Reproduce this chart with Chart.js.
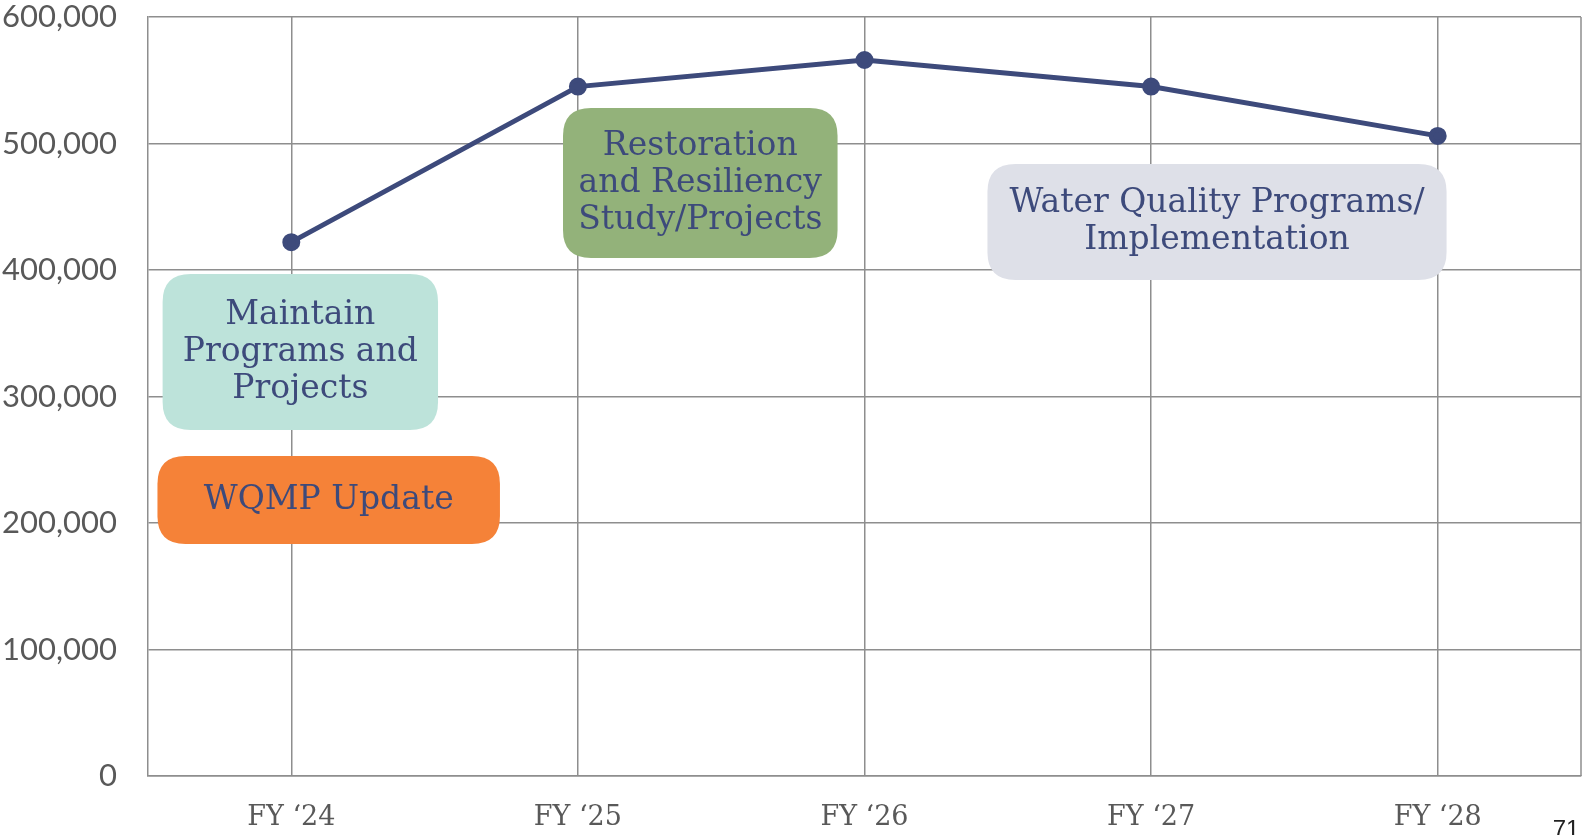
<!DOCTYPE html>
<html>
<head>
<meta charset="utf-8">
<script src="https://cdn.jsdelivr.net/npm/chart.js@4.4.0/dist/chart.umd.min.js"></script>
<style>
  html, body { margin: 0; padding: 0; background: #fff; overflow: hidden; }
  #wrap { position: relative; width: 1583px; height: 835px; }
</style>
</head>
<body>
<div id="wrap"><canvas id="budget" width="1583" height="835"></canvas></div>
<script>
// chart values
var years = ['FY \u201824', 'FY \u201825', 'FY \u201826', 'FY \u201827', 'FY \u201828'];
var totals = [422000, 545000, 566000, 545000, 506000];
var yTicks = [0, 100000, 200000, 300000, 400000, 500000, 600000];
var pageNumber = '71';

// text boxes laid over the plot (x in category index, y in axis value)
var notes = [
    { lines: ['Maintain', 'Programs and', 'Projects'], x0: -0.449, x1: 0.512, y0: 396800, y1: 273500, fill: '#bde3da' },
    { lines: ['WQMP Update'], x0: -0.467, x1: 0.728, y0: 253000, y1: 183400, fill: '#f58238' },
    { lines: ['Restoration', 'and Resiliency', 'Study/Projects'], x0: 0.948, x1: 1.906, y0: 528000, y1: 409500, fill: '#93b27a' },
    { lines: ['Water Quality Programs/', 'Implementation'], x0: 2.429, x1: 4.031, y0: 483800, y1: 392100, fill: '#dee0e8' }
];

var navy = '#3d4a7b';
var gridGray = '#8e8e8e';

function roundBox(c, x, y, w, h, r){
    c.beginPath();
    c.moveTo(x + r, y);
    c.lineTo(x + w - r, y);
    c.quadraticCurveTo(x + w, y, x + w, y + r);
    c.lineTo(x + w, y + h - r);
    c.quadraticCurveTo(x + w, y + h, x + w - r, y + h);
    c.lineTo(x + r, y + h);
    c.quadraticCurveTo(x, y + h, x, y + h - r);
    c.lineTo(x, y + r);
    c.quadraticCurveTo(x, y, x + r, y);
    c.closePath();
}

var notesPlugin = {
    id: 'notes',
    afterDatasetsDraw: function(chart){
        var c = chart.ctx;
        var xs = chart.scales.x, ys = chart.scales.y;
        c.save();
        notes.forEach(function(n){
            var left = xs.getPixelForValue(n.x0);
            var right = xs.getPixelForValue(n.x1);
            var top = ys.getPixelForValue(n.y0);
            var bottom = ys.getPixelForValue(n.y1);
            c.fillStyle = n.fill;
            roundBox(c, left, top, right - left, bottom - top, 28);
            c.fill();
            c.fillStyle = navy;
            c.font = '33px "DejaVu Serif"';
            c.textAlign = 'center';
            c.textBaseline = 'middle';
            var lh = 37;
            var cy = (top + bottom) / 2 - (n.lines.length - 1) * lh / 2;
            n.lines.forEach(function(t, i){
                c.fillText(t, (left + right) / 2, cy + i * lh);
            });
        });
        c.restore();
    },
    afterDraw: function(chart){
        var c = chart.ctx, a = chart.chartArea;
        c.save();
        // right edge of the plot frame
        c.strokeStyle = gridGray;
        c.lineWidth = 1.5;
        c.beginPath();
        c.moveTo(a.right, a.top);
        c.lineTo(a.right, a.bottom);
        c.stroke();
        // page number
        c.fillStyle = '#222';
        c.font = '24px "Liberation Sans"';
        c.textAlign = 'center';
        c.textBaseline = 'middle';
        c.fillText(pageNumber, 1566, 830);
        c.restore();
    }
};

var ctx = document.getElementById('budget').getContext('2d');
var chart = new Chart(ctx, {
    type: 'line',
    data: {
        labels: years,
        datasets: [{
            label: 'Budget',
            data: totals,
            borderColor: navy,
            backgroundColor: navy,
            borderWidth: 5,
            pointRadius: 6.5,
            pointHoverRadius: 6.5,
            tension: 0
        }]
    },
    options: {
        responsive: false,
        animation: false,
        devicePixelRatio: 1,
        layout: { autoPadding: false, padding: { top: 17, right: 2, left: 0, bottom: 0 } },
        plugins: {
            legend: { display: false },
            tooltip: { enabled: false }
        },
        scales: {
            x: {
                offset: true,
                grid: { color: gridGray, lineWidth: 1.5, drawTicks: false, offset: false },
                border: { color: gridGray, width: 1.5 },
                ticks: {
                    color: '#595959',
                    font: { family: 'DejaVu Serif', size: 27 },
                    padding: 26,
                    maxRotation: 0
                },
                afterFit: function(s){
                    s.height = 59;
                    s.paddingLeft = 0;
                    s.paddingRight = 0;
                }
            },
            y: {
                min: 0,
                max: 600000,
                afterBuildTicks: function(s){
                    s.ticks = yTicks.map(function(v){ return { value: v }; });
                },
                grid: { color: gridGray, lineWidth: 1.5, drawTicks: false },
                border: { color: gridGray, width: 1.5 },
                ticks: {
                    color: '#595959',
                    font: { family: 'Lato', size: 31 },
                    padding: 31,
                    callback: function(v){ return v.toLocaleString('en-US'); }
                },
                afterFit: function(s){
                    s.width = 148;
                    s.paddingTop = 0;
                    s.paddingBottom = 0;
                }
            }
        }
    },
    plugins: [notesPlugin]
});
</script>
</body>
</html>
